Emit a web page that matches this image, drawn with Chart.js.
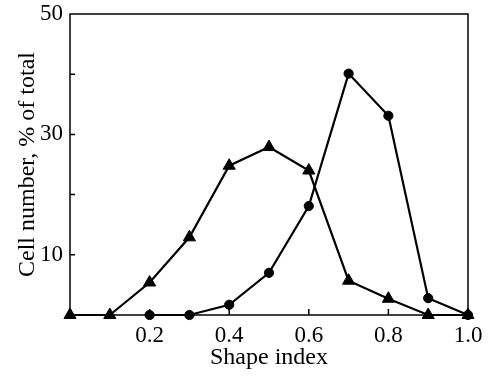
<!DOCTYPE html>
<html>
<head>
<meta charset="utf-8">
<script src="https://cdn.jsdelivr.net/npm/chart.js@4.4.1/dist/chart.umd.min.js"></script>
<style>
  html, body { margin: 0; padding: 0; background: #fff; }
  #wrap { width: 491px; height: 379px; position: relative; }
</style>
</head>
<body>
<div id="wrap"><canvas id="chart"></canvas></div>
<script>
// values
const SHAPE_INDEX = [0, 0.1, 0.2, 0.3, 0.4, 0.5, 0.6, 0.7, 0.8, 0.9, 1.0];
const TRIANGLE_PCT = [0, 0, 5.4, 12.9, 24.8, 27.9, 24.0, 5.7, 2.7, 0, 0];
const CIRCLE_X = [0.2, 0.3, 0.4, 0.5, 0.6, 0.7, 0.8, 0.9, 1.0];
const CIRCLE_PCT = [0, 0, 1.7, 7.0, 18.1, 40.1, 33.1, 2.8, 0];
const X_TICK_LABELS = [0.2, 0.4, 0.6, 0.8, 1.0];
const Y_TICK_LABELS = [10, 30, 50];
const X_TITLE = "Shape index";
const Y_TITLE = "Cell number, % of total";

const FONT = "'Liberation Serif', 'Times New Roman', serif";
const INK = "#000";

function pts(xs, ys) {
  return xs.map((x, i) => ({ x: x, y: ys[i] }));
}

function near(v, list) {
  return list.some((t) => Math.abs(t - v) < 1e-6);
}

// box around the plot, inward tick marks, axis titles
const frame = {
  id: "frame",
  beforeDatasetsDraw(chart) {
    const { ctx, chartArea: a, scales } = chart;
    ctx.save();
    ctx.strokeStyle = INK;
    ctx.lineWidth = 1.5;
    ctx.strokeRect(a.left, a.top, a.right - a.left, a.bottom - a.top);
    ctx.beginPath();
    [10, 20, 30, 40].forEach((v) => {
      const y = scales.y.getPixelForValue(v);
      ctx.moveTo(a.left, y);
      ctx.lineTo(a.left + 5, y);
    });
    [0.2, 0.4, 0.6, 0.8].forEach((v) => {
      const x = scales.x.getPixelForValue(v);
      ctx.moveTo(x, a.bottom);
      ctx.lineTo(x, a.bottom - 6);
    });
    ctx.stroke();
    ctx.restore();
  },
  afterDraw(chart) {
    const { ctx, chartArea: a } = chart;
    ctx.save();
    ctx.fillStyle = INK;
    ctx.font = "24px " + FONT;
    ctx.textAlign = "center";
    ctx.textBaseline = "alphabetic";
    ctx.fillText(X_TITLE, (a.left + a.right) / 2, 364);
    ctx.translate(34, (a.top + a.bottom) / 2);
    ctx.rotate(-Math.PI / 2);
    ctx.fillText(Y_TITLE, 0, 0);
    ctx.restore();
  },
};

const common = {
  borderColor: INK,
  backgroundColor: INK,
  pointBorderColor: INK,
  pointBackgroundColor: INK,
  borderWidth: 2.2,
  pointBorderWidth: 1,
  tension: 0,
  clip: false,
};

new Chart(document.getElementById("chart"), {
  type: "line",
  data: {
    datasets: [
      Object.assign({
        label: "triangles",
        data: pts(SHAPE_INDEX, TRIANGLE_PCT),
        pointStyle: "triangle",
        pointRadius: 7,
      }, common),
      Object.assign({
        label: "circles",
        data: pts(CIRCLE_X, CIRCLE_PCT),
        pointStyle: "circle",
        pointRadius: 4.6,
      }, common),
    ],
  },
  options: {
    responsive: true,
    maintainAspectRatio: false,
    animation: false,
    events: [],
    layout: { padding: { left: 0, right: 23, top: 14, bottom: 0 } },
    plugins: { legend: { display: false }, tooltip: { enabled: false } },
    scales: {
      x: {
        type: "linear",
        min: 0,
        max: 1,
        grid: { display: false, drawTicks: false },
        border: { display: false },
        ticks: {
          stepSize: 0.2,
          color: INK,
          padding: 7,
          maxRotation: 0,
          font: { family: FONT, size: 23 },
          callback: (v) => (near(v, X_TICK_LABELS) ? v.toFixed(1) : ""),
        },
        afterFit: (s) => { s.height = 64; },
      },
      y: {
        min: 0,
        max: 50,
        grid: { display: false, drawTicks: false },
        border: { display: false },
        ticks: {
          stepSize: 10,
          color: INK,
          padding: 7,
          font: { family: FONT, size: 23 },
          callback: (v) => (near(v, Y_TICK_LABELS) ? String(v) : ""),
        },
        afterFit: (s) => {
          s.width = 70;
          s.paddingTop = 0;
          s.paddingBottom = 0;
        },
      },
    },
  },
  plugins: [frame],
});
</script>
</body>
</html>
